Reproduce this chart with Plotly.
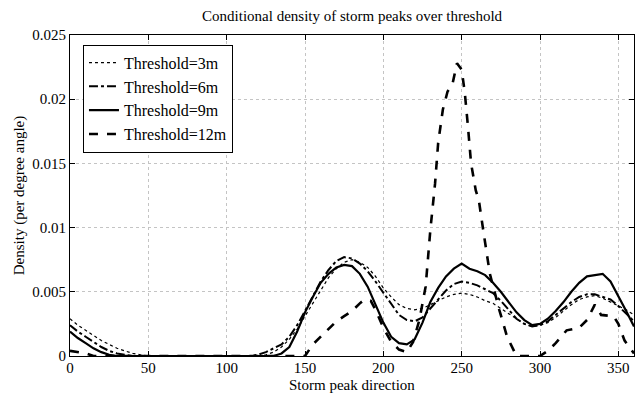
import plotly.graph_objects as go

x3 = [0,5,10,15,20,25,30,35,40,45,50,100,120,125,130,135,140,145,150,155,160,165,170,175,180,185,190,195,200,205,210,215,220,225,230,235,240,245,250,255,260,265,270,275,280,285,290,295,300,305,310,315,320,325,330,335,340,345,350,355,360]
y3 = [0.0029,0.0024,0.0020,0.0016,0.0012,0.0009,0.0006,0.0004,0.0002,0.0001,0.0,0.0,0.0,0.0001,0.0003,0.0007,0.0013,0.0021,0.0031,0.0042,0.0052,0.0061,0.0068,0.0073,0.0075,0.0073,0.0069,0.0062,0.0053,0.0046,0.0040,0.0037,0.0036,0.0037,0.0040,0.0043,0.0046,0.0048,0.0049,0.0048,0.0046,0.0043,0.0041,0.0037,0.0033,0.0029,0.0025,0.0023,0.0024,0.0026,0.0030,0.0035,0.0040,0.0044,0.0046,0.0047,0.0045,0.0042,0.0039,0.0036,0.0032]

x6 = [0,5,10,15,20,25,30,35,40,115,120,125,130,135,140,145,150,155,160,165,170,175,180,185,190,195,200,205,210,215,220,225,230,235,240,245,250,255,260,265,270,275,280,285,290,295,300,305,310,315,320,325,330,335,340,345,350,355,360]
y6 = [0.0024,0.0019,0.0015,0.0011,0.0007,0.0004,0.0002,0.0001,0.0,0.0,0.0001,0.0003,0.0006,0.0009,0.0015,0.0024,0.0035,0.0047,0.0058,0.0067,0.0074,0.0077,0.0076,0.0072,0.0066,0.0058,0.0049,0.0040,0.0032,0.0028,0.0027,0.0030,0.0037,0.0044,0.0051,0.0056,0.0058,0.0057,0.0055,0.0052,0.0049,0.0043,0.0036,0.0029,0.0025,0.0023,0.0024,0.0027,0.0032,0.0037,0.0042,0.0046,0.0048,0.0048,0.0046,0.0044,0.0039,0.0033,0.0027]

x9 = [0,5,10,15,20,25,30,130,135,140,145,150,155,160,165,170,175,180,185,190,195,200,205,210,215,220,225,230,235,240,245,250,255,260,265,270,275,280,285,290,295,300,305,310,315,320,325,330,335,340,345,350,355,360]
y9 = [0.0019,0.0014,0.0010,0.0006,0.0003,0.0001,0.0,0.0,0.0002,0.0007,0.0019,0.0034,0.0046,0.0057,0.0064,0.0069,0.0071,0.0070,0.0064,0.0054,0.0040,0.0026,0.0015,0.0010,0.0009,0.0013,0.0026,0.0042,0.0053,0.0062,0.0068,0.0072,0.0068,0.0066,0.0063,0.0057,0.0050,0.0042,0.0034,0.0028,0.0024,0.0025,0.0029,0.0035,0.0042,0.0050,0.0057,0.0062,0.0063,0.0064,0.0058,0.0047,0.0035,0.0023]

x12 = [0,5,10,15,150,155,160,165,170,175,180,185,188,192,195,200,205,210,215,219,223,227,230,233,235,238,241,244,247,250,252,254,256,259,261,264,268,274,279,285,300,305,310,317,325,330,335,339,347,350,354,360]
y12 = [0.0004,0.0003,0.0002,0.0,0.0,0.0009,0.0015,0.0021,0.0027,0.0031,0.0035,0.0041,0.0044,0.0043,0.0036,0.0022,0.0011,0.0005,0.0003,0.0011,0.0028,0.0054,0.0098,0.0134,0.0166,0.0192,0.0206,0.0211,0.0228,0.0223,0.0205,0.0179,0.0150,0.0129,0.0121,0.0096,0.0064,0.0036,0.0015,0.0,0.0,0.0004,0.0010,0.0020,0.0022,0.0028,0.0040,0.0032,0.0031,0.0025,0.0012,0.0002]

names = ["Threshold=3m", "Threshold=6m", "Threshold=9m", "Threshold=12m"]

FONT = "Liberation Serif, DejaVu Serif, serif"
fig = go.Figure()
fig.add_trace(go.Scatter(x=x3, y=y3, mode="lines", name=names[0],
                         line=dict(color="black", width=1.2, dash="dot")))
fig.add_trace(go.Scatter(x=x6, y=y6, mode="lines", name=names[1],
                         line=dict(color="black", width=2, dash="dashdot")))
fig.add_trace(go.Scatter(x=x9, y=y9, mode="lines", name=names[2],
                         line=dict(color="black", width=2.2)))
fig.add_trace(go.Scatter(x=x12, y=y12, mode="lines", name=names[3],
                         line=dict(color="black", width=2.6, dash="dash")))

axis_common = dict(showline=True, linecolor="black", linewidth=1, mirror="ticks",
                   ticks="inside", ticklen=5, tickcolor="black",
                   showgrid=True, gridcolor="#c4c4c4", griddash="dot", gridwidth=1,
                   zeroline=False, tickfont=dict(family=FONT, size=15, color="black"))

fig.update_xaxes(range=[0, 360], tickvals=[0,50,100,150,200,250,300,350],
                 ticklabelstandoff=-2, **axis_common)
fig.update_yaxes(range=[0, 0.025], tickvals=[0,0.005,0.01,0.015,0.02,0.025],
                 ticktext=["0","0.005","0.01","0.015","0.02","0.025"],
                 title=dict(text="Density (per degree angle)", font=dict(family=FONT, size=15, color="black"), standoff=4),
                 **axis_common)

fig.add_annotation(text="Storm peak direction", xref="paper", yref="paper",
                   x=0.5, y=-0.091, xanchor="center", yanchor="middle", showarrow=False,
                   font=dict(family=FONT, size=15, color="black"))

fig.update_layout(
    width=639, height=395,
    margin=dict(l=70, r=5, t=35, b=39),
    paper_bgcolor="white", plot_bgcolor="white",
    font=dict(family=FONT, color="black"),
    title=dict(text="Conditional density of storm peaks over threshold",
               font=dict(family=FONT, size=15, color="black"),
               x=0.551, xanchor="center", y=0.96, yanchor="middle"),
    legend=dict(x=0.023, y=0.97, xanchor="left", yanchor="top",
                bgcolor="white", bordercolor="black", borderwidth=1,
                font=dict(family=FONT, size=16, color="black"),
                tracegroupgap=0, itemwidth=30),
    showlegend=True,
)

fig.write_html("out.html")
